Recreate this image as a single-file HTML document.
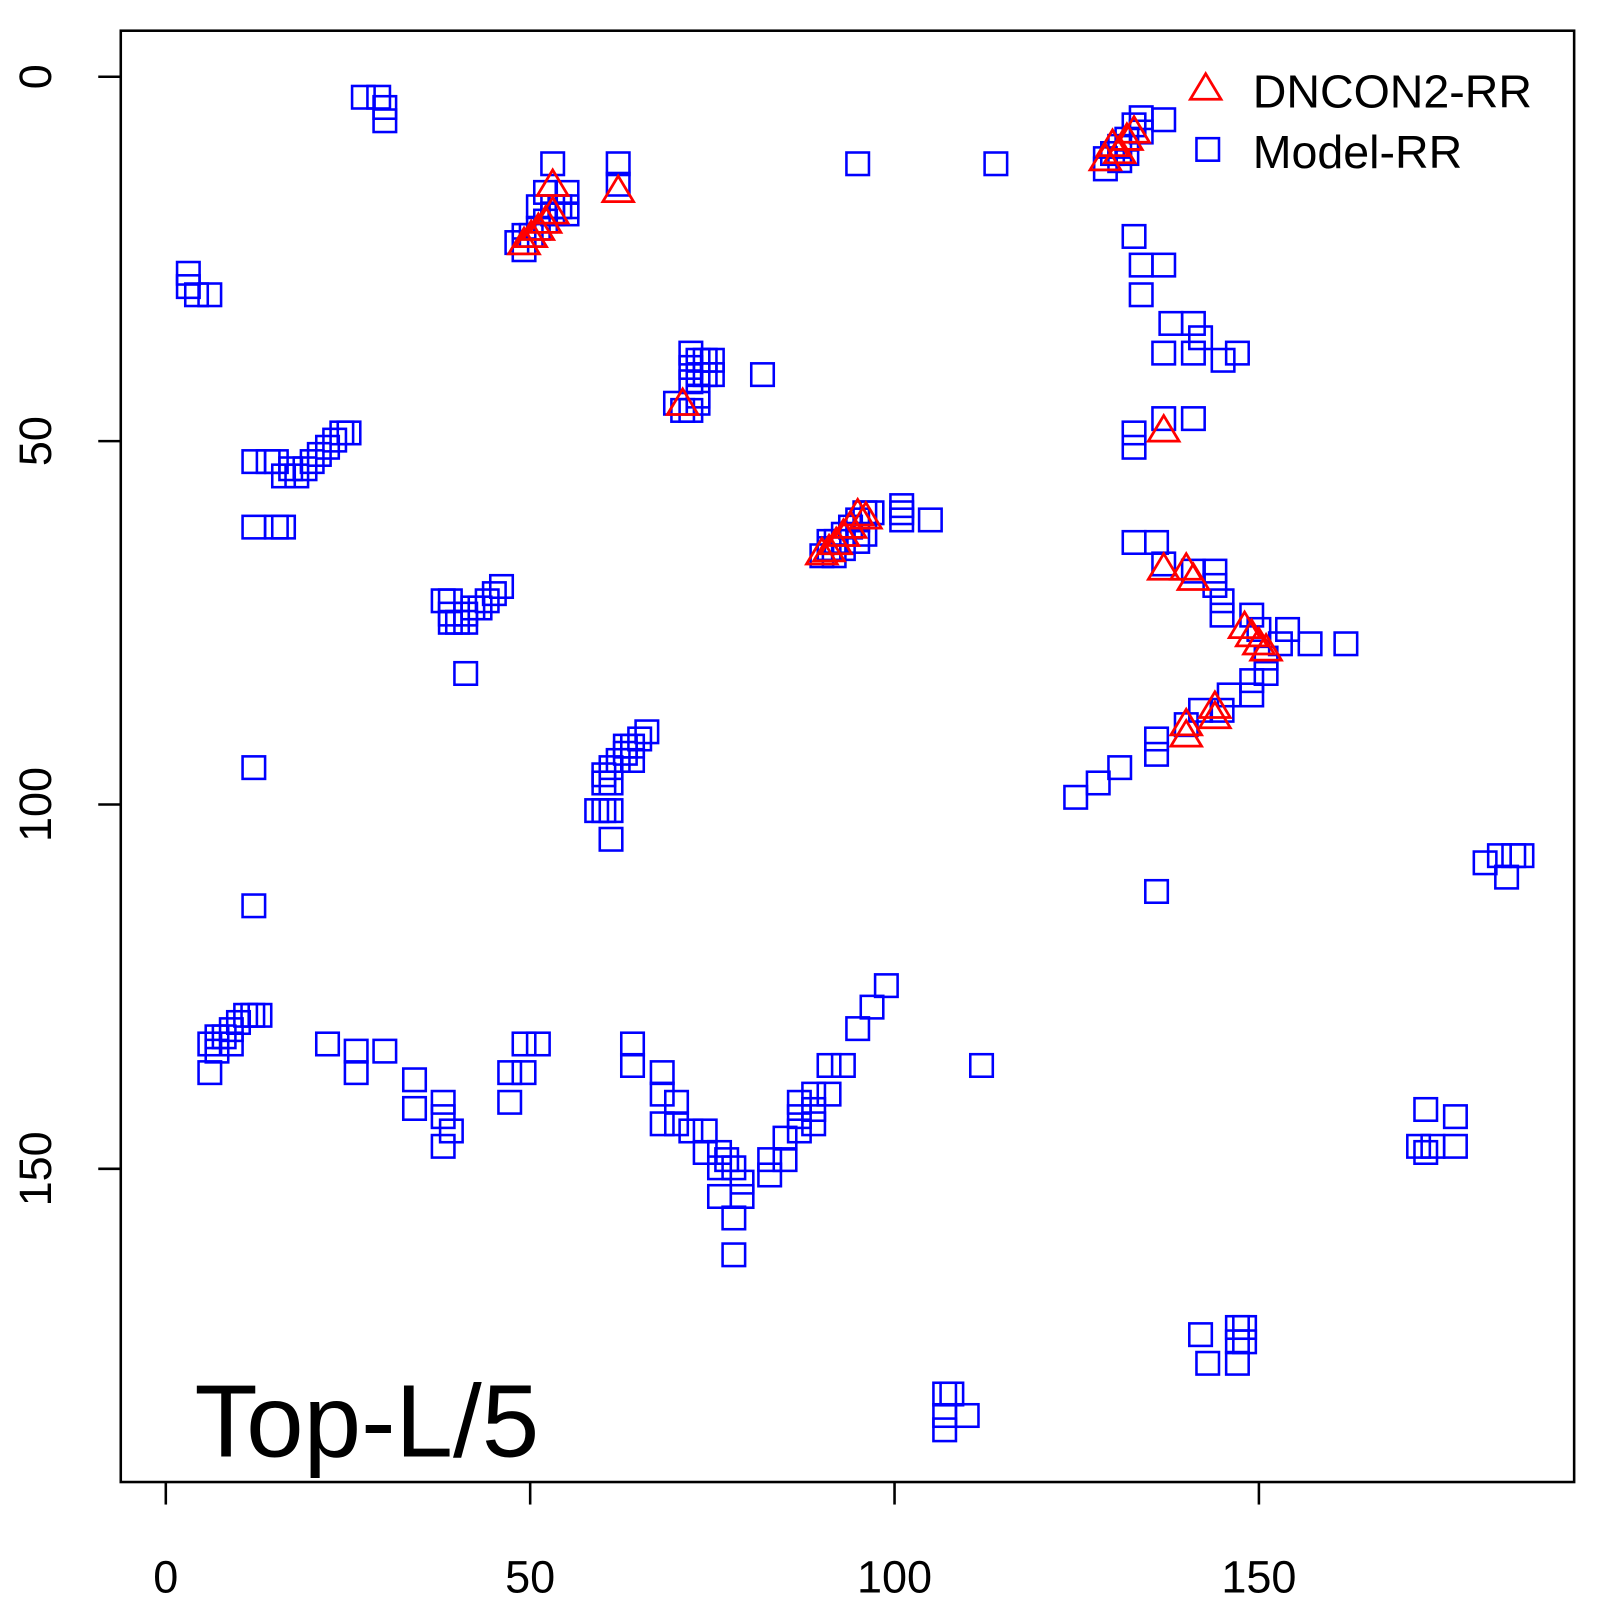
<!DOCTYPE html>
<html><head><meta charset="utf-8"><style>
html,body{margin:0;padding:0;background:#fff;}
svg text{font-family:"Liberation Sans",sans-serif;}
</style></head><body>
<svg id="s" width="1600" height="1600" viewBox="0 0 1600 1600" xmlns="http://www.w3.org/2000/svg">
<rect x="0" y="0" width="1600" height="1600" fill="#fff"/>
<g transform="scale(1.0235)">
<rect x="118" y="30" width="1420" height="1418" fill="none" stroke="#000" stroke-width="2.5"/>
<g stroke="#000" stroke-width="2.5">
<line x1="162" y1="1448" x2="162" y2="1470"/><line x1="518" y1="1448" x2="518" y2="1470"/>
<line x1="874" y1="1448" x2="874" y2="1470"/><line x1="1230" y1="1448" x2="1230" y2="1470"/>
<line x1="96" y1="75" x2="118" y2="75"/><line x1="96" y1="431" x2="118" y2="431"/>
<line x1="96" y1="786" x2="118" y2="786"/><line x1="96" y1="1142" x2="118" y2="1142"/>
</g>
<g font-size="44" text-anchor="middle" fill="#000">
<text x="162" y="1556">0</text><text x="518" y="1556">50</text><text x="874" y="1556">100</text><text x="1230" y="1556">150</text>
<text transform="translate(50,75) rotate(-90)">0</text>
<text transform="translate(50,431) rotate(-90)">50</text>
<text transform="translate(50,786) rotate(-90)">100</text>
<text transform="translate(50,1142) rotate(-90)">150</text>
</g>
<text x="190" y="1423" font-size="101" fill="#000">Top-L/5</text>
<text x="1224" y="105" font-size="45.5" fill="#000">DNCON2-RR</text>
<text x="1224" y="164" font-size="45.5" fill="#000">Model-RR</text>
<g id="sq" fill="none" stroke="#0000ff" stroke-width="2.5"></g>
<g id="tr" fill="none" stroke="#ff0000" stroke-width="2.7"></g>
</g>
</svg>
<script>
var S=[[355,95],[370,95],[376,105],[376,118],
[184,267],[184,280],[192,288],[205,288],
[248,451],[262,451],[270,451],[277,465],[290,465],[284,458],[298,458],[305,451],[312,444],[320,437],[327,430],[334,423],[341,423],
[248,515],[270,515],[277,515],[248,750],[248,885],
[433,587],[440,587],[440,600],[447,608],[455,600],[462,594],[469,594],[476,587],[483,580],[490,573],[440,608],[455,608],[455,658],
[632,715],[625,722],[618,729],[611,736],[604,743],[597,750],[590,757],[590,765],[597,765],[583,792],[590,792],[597,792],[597,820],[611,729],[618,743],
[540,160],[505,237],[512,244],[512,230],[519,230],[526,223],[533,216],[540,209],[547,202],[554,188],[554,202],[554,209],[540,202],[533,188],[526,202],[604,160],[604,180],
[675,345],[682,352],[689,352],[696,352],[675,359],[682,366],[689,366],[696,366],[675,373],[682,387],[660,394],[667,401],[675,401],[682,394],[745,366],
[838,160],[973,160],
[803,543],[810,536],[817,529],[824,522],[831,515],[838,508],[845,501],[852,501],[815,543],[824,536],[838,529],[845,522],[881,494],[881,501],[881,508],[909,508],[810,529],
[1080,165],[1087,150],[1094,143],[1101,136],[1108,122],[1115,115],[1137,117],[1101,150],[1080,155],[1094,157],[1115,129],
[1108,231],[1115,259],[1137,259],[1115,288],[1144,316],[1166,316],[1173,330],[1166,345],[1195,352],[1209,345],[1137,345],
[1137,409],[1166,409],[1108,423],[1108,437],
[1108,530],[1130,530],[1137,551],[1166,558],[1187,558],[1187,572],[1194,587],[1194,601],[1223,601],[1258,615],[1280,629],[1315,629],[1251,629],[1230,615],[1237,643],[1237,658],[1223,665],[1223,679],[1201,679],[1194,694],[1173,694],[1159,708],[1130,722],[1130,737],[1094,750],[1073,765],[1051,779],[1130,871],
[1180,146],
[1451,843],[1465,836],[1479,836],[1487,836],[1472,857],
[205,1048],[205,1020],[212,1027],[219,1013],[226,1006],[233,999],[240,992],[247,992],[254,992],[212,1013],[226,1020],
[320,1020],[348,1027],[348,1048],[376,1027],[405,1055],[405,1083],[433,1077],[433,1091],[441,1105],[433,1120],[498,1048],[498,1077],[512,1020],[526,1020],[512,1048],
[618,1020],[618,1041],[647,1048],[647,1069],[647,1098],[661,1077],[661,1098],[675,1105],[689,1105],[689,1126],[703,1126],[703,1141],[710,1133],[703,1169],[717,1141],[725,1155],[725,1169],[717,1190],[717,1226],
[752,1133],[752,1148],[767,1133],[767,1112],[781,1105],[781,1077],[781,1091],[795,1069],[795,1084],[795,1098],[810,1041],[810,1069],[824,1041],[838,1005],[852,984],[866,963],[959,1041],
[1393,1084],[1422,1091],[1386,1120],[1400,1120],[1422,1120],[1393,1126],
[1173,1304],[1180,1332],[1209,1297],[1209,1311],[1216,1297],[1209,1332],[1216,1311],
[923,1362],[923,1383],[930,1362],[945,1383],[923,1397]];
var T=[[540,180],[540,207],[533,216],[526,223],[519,230],[512,237],[604,186],[667,394],[1137,420],
[810,537],[817,530],[824,522],[831,514],[838,502],[846,505],[803,540],
[1080,155],[1087,141],[1094,148],[1101,135],[1108,128],
[1137,555],[1159,555],[1166,565],[1216,612],[1223,620],[1237,634],[1230,628],[1187,690],[1159,707],[1159,718],[1187,700],[1178,86]];
var ns="http://www.w3.org/2000/svg",g=document.getElementById('sq'),h=document.getElementById('tr');
S.forEach(function(p){var r=document.createElementNS(ns,'rect');r.setAttribute('x',p[0]-11);r.setAttribute('y',p[1]-11);r.setAttribute('width',22);r.setAttribute('height',22);g.appendChild(r);});
T.forEach(function(p){var r=document.createElementNS(ns,'polygon');var x=p[0],y=p[1];r.setAttribute('points',(x)+','+(y-14)+' '+(x+15)+','+(y+11)+' '+(x-15)+','+(y+11));h.appendChild(r);});
</script>
</body></html>
